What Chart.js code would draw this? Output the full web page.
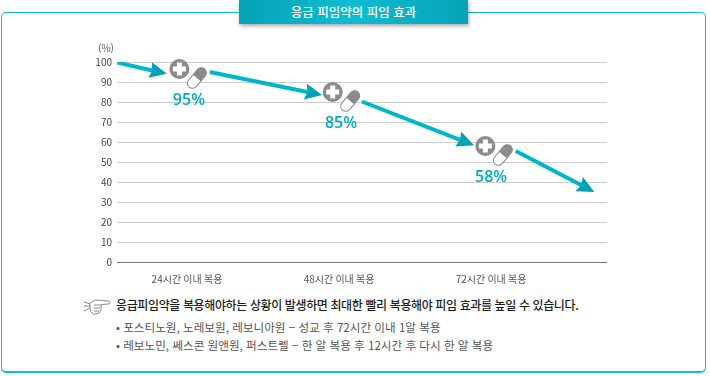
<!DOCTYPE html>
<html lang="ko">
<head>
<meta charset="utf-8">
<title>응급 피임약의 피임 효과</title>
<script src="https://cdn.jsdelivr.net/npm/chart.js@4/dist/chart.umd.min.js"></script>
<style>
  html, body { margin: 0; padding: 0; background: #fff; overflow: hidden; }
  body { width: 710px; height: 376px; position: relative; font-family: "Noto Sans CJK KR", sans-serif; }
  #frame { position: absolute; left: 1px; top: 12px; width: 703px; height: 358px; border: 1px solid #10bdd2; border-bottom-width: 2px; border-radius: 5px; }
  #title { position: absolute; left: 239px; top: 0; width: 229px; height: 24px; line-height: 23px; text-align: center; color: #fff; font-size: 12.5px; font-weight: 500;
    background: linear-gradient(90deg, #04a3b5 0%, #10bcd2 50%, #04a3b5 100%); box-shadow: 1px 2px 4px rgba(0,0,0,.35); }
  #wrap { position: absolute; left: 60px; top: 35px; width: 570px; height: 250px; }
  .note { position: absolute; white-space: nowrap; }
  #main { left: 116px; top: 296px; font-size: 12px; font-weight: 500; color: #1c1c1c; letter-spacing: -.38px; }
  #sub1 { left: 116px; top: 319px; font-size: 11.6px; color: #555; }
  #sub2 { left: 116px; top: 337px; font-size: 11.6px; color: #555; }
  #hand { position: absolute; left: 83px; top: 297px; }
</style>
</head>
<body>
<div id="frame"></div>
<div id="title">응급 피임약의 피임 효과</div>
<div id="wrap"><canvas id="grafico"></canvas></div>
<svg id="hand" width="28" height="20" viewBox="0 0 28 20" fill="#fff" stroke="#8a8a8a" stroke-width="1">
  <path d="M1 5 L7 7 M1 9 L7 9 M1 14 L7 11"/>
  <path d="M7 6 L12 3 L26 4 Q28 5.500 26 7 L18 7.500 L18 13 Q17 17 13 17 L10 17 Q7 15 7 11 Z"/>
  <path d="M11 8 L18 8 M11 11 L17 11 M11 14 L16 14"/>
</svg>
<div class="note" id="main">응급피임약을 복용해야하는 상황이 발생하면 최대한 빨리 복용해야 피임 효과를 높일 수 있습니다.</div>
<div class="note" id="sub1">• 포스티노원, 노레보원, 레보니아원 − 성교 후 72시간 이내 1알 복용</div>
<div class="note" id="sub2">• 레보노민, 쎄스콘 원앤원, 퍼스트렐 − 한 알 복용 후 12시간 후 다시 한 알 복용</div>

<script>
const doseHours = [24, 48, 72];
const doseLabels = ["24시간 이내 복용", "48시간 이내 복용", "72시간 이내 복용"];
const effectLabels = ["95%", "85%", "58%"];

// marker position on the chart, hours / percent
const markerHours = [22.8, 47, 71.1];
const markerValues = [96.5, 85, 58];
const labelHours = [24.3, 48.3, 72];

// arrows, start and end of each one
const arrow1Hours = [13, 18.5];
const arrow1Values = [99.75, 95.75];
const arrow2Hours = [27.6, 43];
const arrow2Values = [95, 85];
const arrow3Hours = [51.6, 67.1];
const arrow3Values = [80.25, 61.1];
const arrow4Hours = [75.9, 86.2];
const arrow4Values = [55.5, 38.5];

const yTicks = [0, 10, 20, 30, 40, 50, 60, 70, 80, 90, 100];

const fonte = '"Noto Sans CJK KR", sans-serif';

function pontos(horas, valores) {
  return horas.map((h, i) => ({ x: h, y: valores[i] }));
}

function setaDataset(horas, valores) {
  return {
    data: pontos(horas, valores),
    borderColor: "#00b6ca",
    borderWidth: 4,
    borderCapStyle: "butt",
    pointRadius: 0,
    tension: 0,
    isArrow: true
  };
}

function desenhaMarcador(ctx, x, y) {
  // circle with plus
  ctx.fillStyle = "#8b8b8b";
  ctx.beginPath();
  ctx.arc(x, y, 10, 0, Math.PI * 2);
  ctx.fill();
  ctx.fillStyle = "#fff";
  ctx.fillRect(x - 6.5, y - 2.5, 13, 5);
  ctx.fillRect(x - 2.5, y - 6.5, 5, 13);

  // pill
  ctx.save();
  ctx.translate(x + 17.5, y + 9);
  ctx.rotate(-50 * Math.PI / 180);
  ctx.beginPath();
  ctx.roundRect(-12, -5, 24, 10, 5);
  ctx.fillStyle = "#fff";
  ctx.fill();
  ctx.strokeStyle = "#8b8b8b";
  ctx.lineWidth = 1;
  ctx.stroke();
  ctx.beginPath();
  ctx.roundRect(0, -5, 12, 10, [0, 5, 5, 0]);
  ctx.fillStyle = "#8b8b8b";
  ctx.fill();
  ctx.restore();
}

const decoracao = {
  id: "decoracao",
  afterDatasetsDraw(chart) {
    const ctx = chart.ctx;
    const sx = chart.scales.x;
    const sy = chart.scales.y;

    // arrow heads follow the direction of each line
    chart.data.datasets.forEach((ds, i) => {
      if (!ds.isArrow) return;
      const pts = chart.getDatasetMeta(i).data;
      const a = pts[0];
      const b = pts[pts.length - 1];
      const ang = Math.atan2(b.y - a.y, b.x - a.x);
      ctx.save();
      ctx.translate(b.x, b.y);
      ctx.rotate(ang);
      ctx.fillStyle = "#00a2b4";
      ctx.beginPath();
      ctx.moveTo(15, 0);
      ctx.lineTo(-2, -8);
      ctx.lineTo(0, 0);
      ctx.lineTo(-2, 8);
      ctx.closePath();
      ctx.fill();
      ctx.restore();
    });

    markerHours.forEach((h, i) => {
      desenhaMarcador(ctx, sx.getPixelForValue(h), sy.getPixelForValue(markerValues[i]));
    });

    ctx.save();
    ctx.fillStyle = "#00aebf";
    ctx.font = "600 16px 'Open Sans', sans-serif";
    ctx.textAlign = "center";
    ctx.textBaseline = "middle";
    effectLabels.forEach((t, i) => {
      ctx.fillText(t, sx.getPixelForValue(labelHours[i]), sy.getPixelForValue(markerValues[i]) + 31);
    });

    ctx.fillStyle = "#555";
    ctx.font = "10px " + fonte;
    ctx.textAlign = "right";
    ctx.fillText("(%)", chart.chartArea.left - 3, chart.chartArea.top - 14);
    ctx.restore();
  }
};

new Chart(document.getElementById("grafico"), {
  type: "line",
  data: {
    datasets: [
      setaDataset(arrow1Hours, arrow1Values),
      setaDataset(arrow2Hours, arrow2Values),
      setaDataset(arrow3Hours, arrow3Values),
      setaDataset(arrow4Hours, arrow4Values)
    ]
  },
  options: {
    responsive: true,
    maintainAspectRatio: false,
    animation: false,
    layout: { padding: { top: 27, right: 23, left: 0, bottom: 0 } },
    plugins: { legend: { display: false }, tooltip: { enabled: false } },
    scales: {
      x: {
        type: "linear",
        min: 12.95,
        max: 90.3,
        afterBuildTicks: s => { s.ticks = doseHours.map(h => ({ value: h })); },
        afterFit: s => { s.height = 23; },
        grid: { display: false },
        border: { display: false },
        ticks: {
          autoSkip: false,
          maxRotation: 0,
          padding: 3,
          color: "#555",
          font: { family: fonte, size: 10 },
          callback: v => doseLabels[doseHours.indexOf(v)]
        }
      },
      y: {
        min: 0,
        max: 100,
        afterBuildTicks: s => { s.ticks = yTicks.map(v => ({ value: v })); },
        afterFit: s => { s.width = 57; },
        grid: {
          drawTicks: false,
          lineWidth: 1,
          color: c => c.tick.value === 0 ? "#777" : "#cdcdcd"
        },
        border: { display: false },
        ticks: {
          padding: 5,
          color: "#444",
          font: { family: fonte, size: 10 }
        }
      }
    }
  },
  plugins: [decoracao]
});
</script>
</body>
</html>
